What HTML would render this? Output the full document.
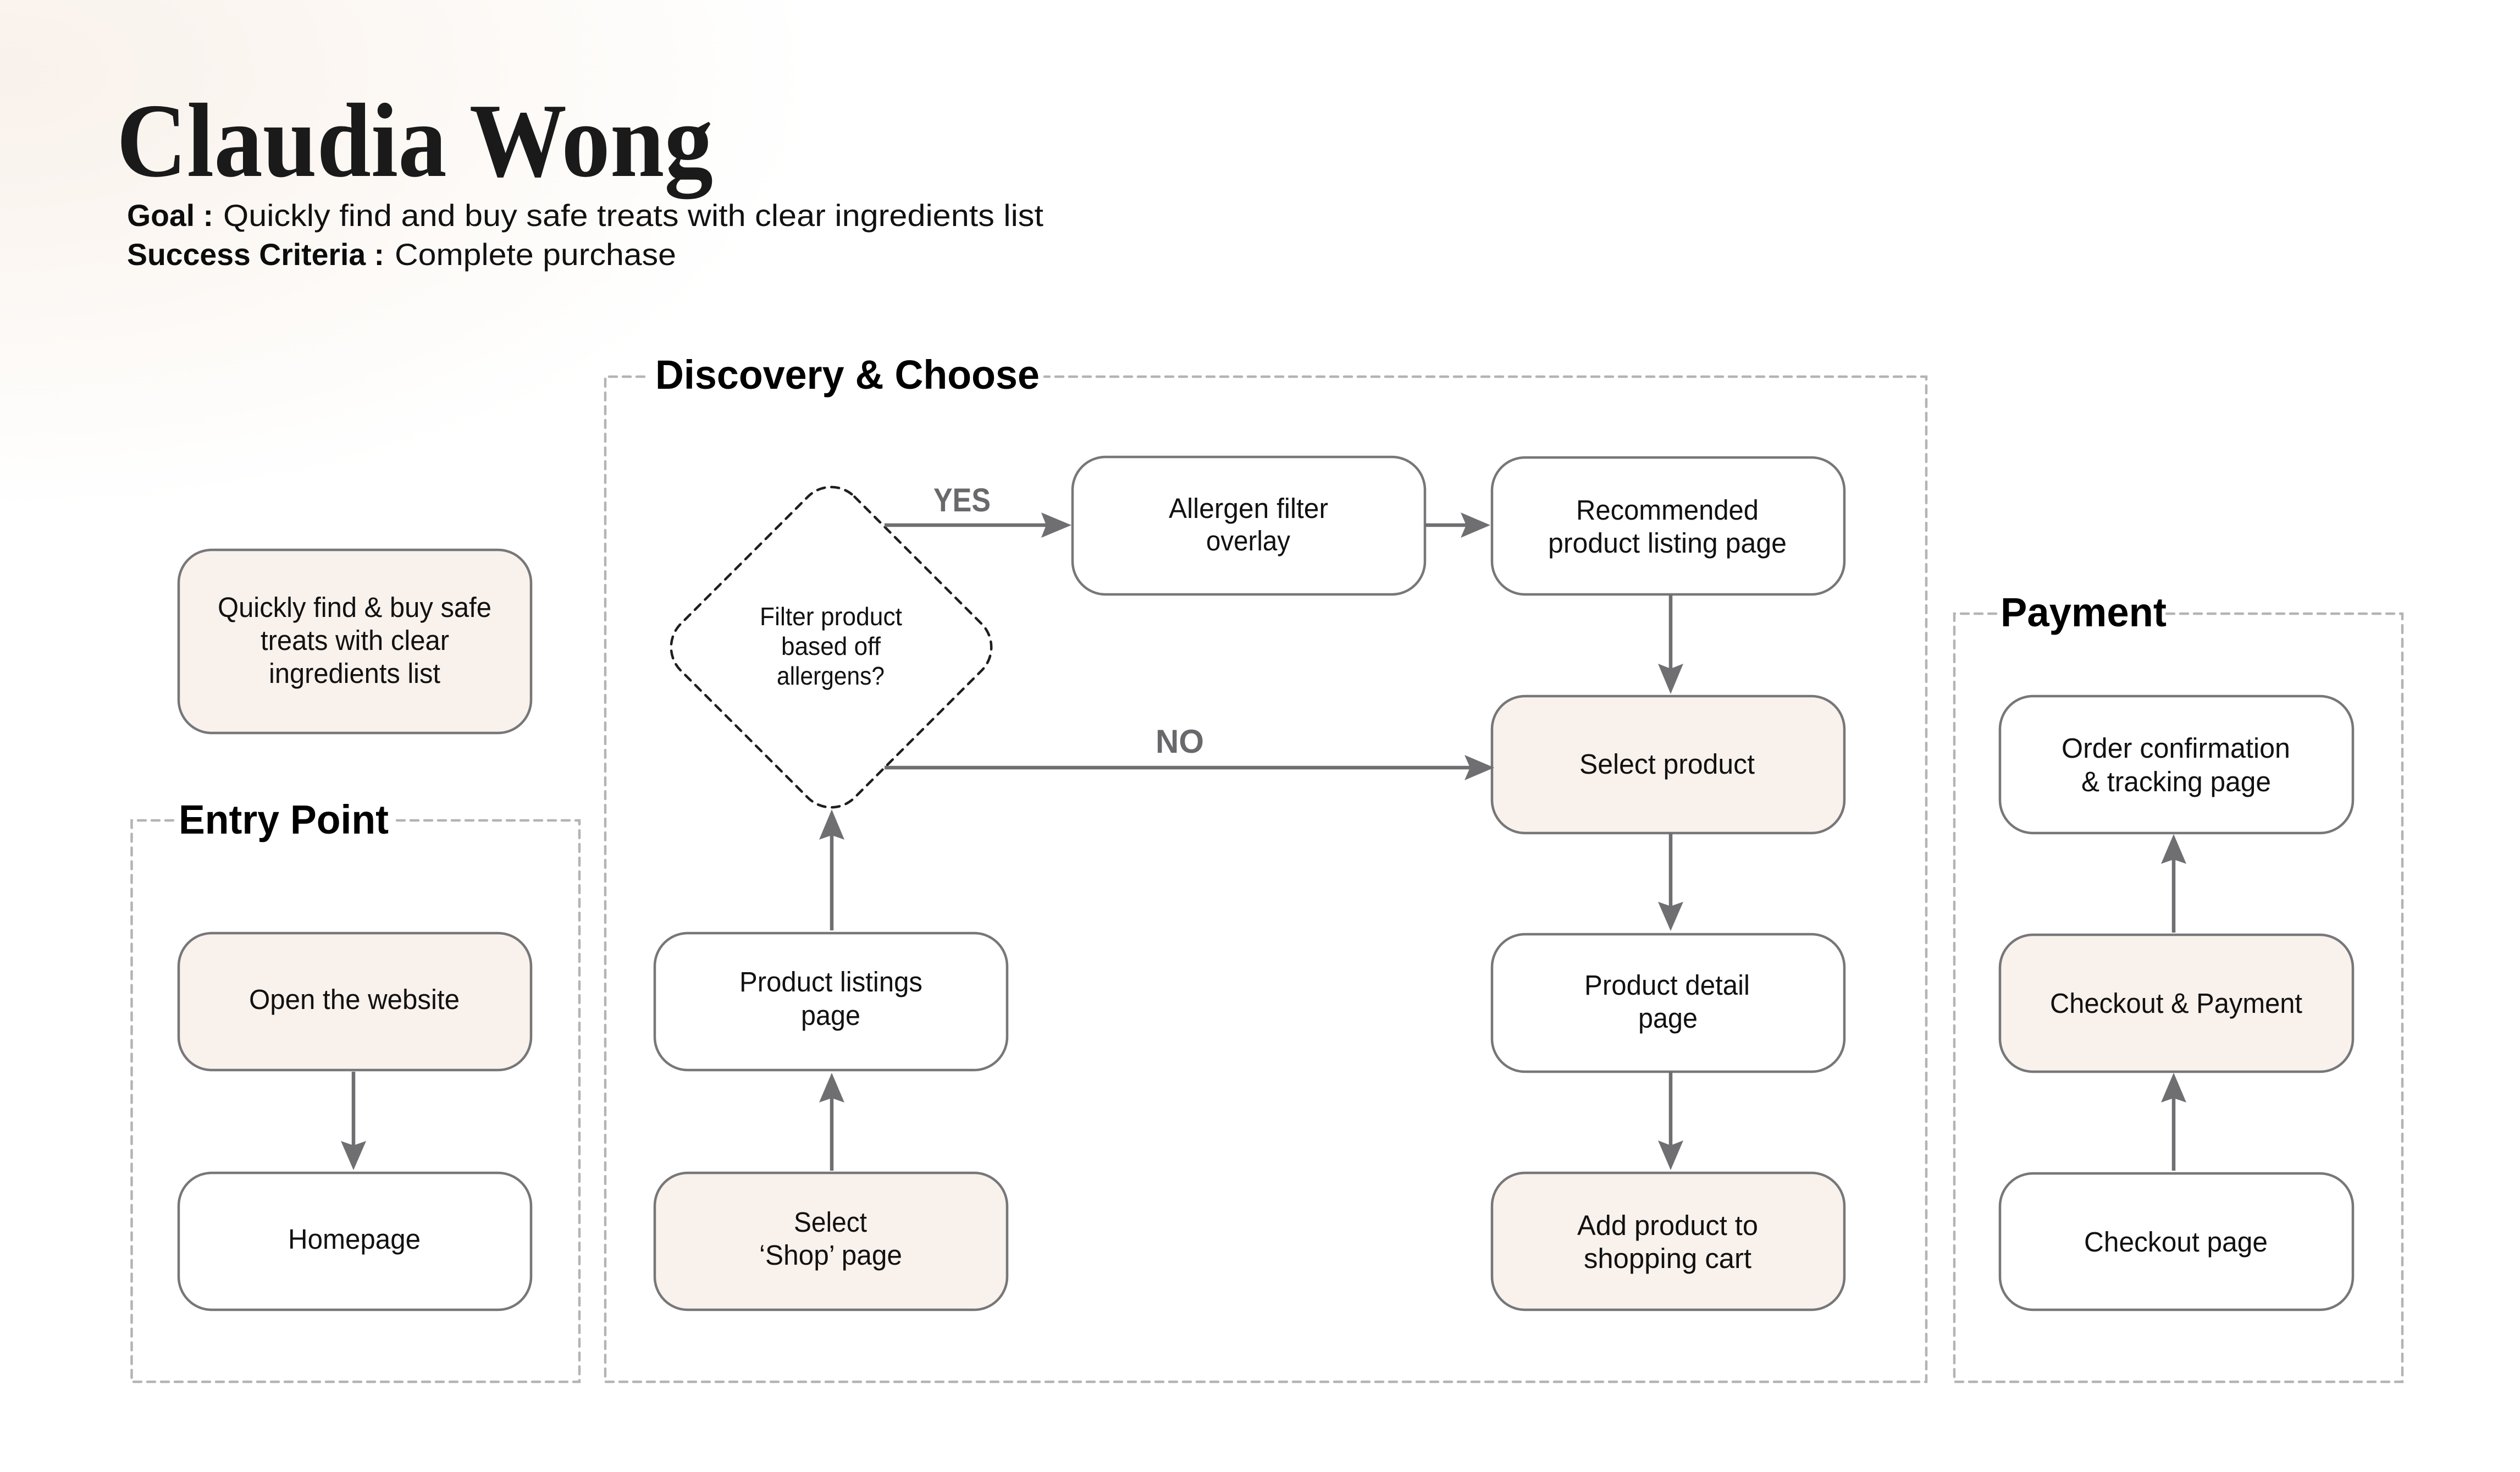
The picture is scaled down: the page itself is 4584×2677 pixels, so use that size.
<!DOCTYPE html>
<html lang="en">
<head>
<meta charset="utf-8">
<title>Claudia Wong user flow</title>
<style>
html,body{margin:0;padding:0;background:#fff;width:4584px;height:2677px;overflow:hidden}
svg{display:block}
text{font-family:"Liberation Sans",sans-serif;fill:#111;font-size:51px}
.t{font-size:56px;fill:#111}
.h{font-size:74px;font-weight:700;fill:#000}
.b{font-size:56px;font-weight:700;fill:#0c0c0c}
.l{font-size:60px;font-weight:700;fill:#69696c}
.d{font-size:46px}
.n{fill:#fff;stroke:#77777a;stroke-width:4.5}
.f{fill:#f9f1eb;stroke:#77777a;stroke-width:4.5}
.g{fill:none;stroke:#b4b4b4;stroke-width:4.5;stroke-dasharray:14 11;stroke-linecap:round}
.a{stroke:#6f6f72;stroke-width:6.5;fill:none}
.p{fill:#6f6f72}
</style>
</head>
<body>
<svg xmlns="http://www.w3.org/2000/svg" width="4584" height="2677" viewBox="0 0 4584 2677">
<defs>
<radialGradient id="bg" gradientUnits="userSpaceOnUse" cx="0" cy="0" r="1" gradientTransform="translate(0 130) scale(1480 800)">
<stop offset="0" stop-color="#f9f1eb"/>
<stop offset=".5" stop-color="#fcf8f4"/>
<stop offset="1" stop-color="#ffffff"/>
</radialGradient>
</defs>
<rect width="4584" height="2677" fill="#fff"/>
<rect width="1500" height="950" fill="url(#bg)"/>

<!-- Header -->
<text x="212" y="320" textLength="1085" lengthAdjust="spacingAndGlyphs" style="font-family:'Liberation Serif',serif;font-size:192px;font-weight:700;fill:#1a1a1a">Claudia Wong</text>
<text class="b" x="231" y="411" textLength="157" lengthAdjust="spacingAndGlyphs">Goal :</text>
<text class="t" x="406" y="411" textLength="1492" lengthAdjust="spacingAndGlyphs">Quickly find and buy safe treats with clear ingredients list</text>
<text class="b" x="231" y="482" textLength="468" lengthAdjust="spacingAndGlyphs">Success Criteria :</text>
<text class="t" x="718" y="482" textLength="512" lengthAdjust="spacingAndGlyphs">Complete purchase</text>

<!-- Groups -->
<path class="g" d="M315 1492H239.500V2513H1054V1492H717"/>
<path class="g" d="M1172 685H1101V2513H3504V685H1900"/>
<path class="g" d="M3631 1116H3555V2513H4370V1116H3941"/>
<text class="h" x="325" y="1516" textLength="382" lengthAdjust="spacingAndGlyphs">Entry Point</text>
<text class="h" x="1192" y="707" textLength="699" lengthAdjust="spacingAndGlyphs">Discovery &amp; Choose</text>
<text class="h" x="3639" y="1139" textLength="302" lengthAdjust="spacingAndGlyphs">Payment</text>

<!-- Nodes -->
<rect class="f" x="325" y="1000" width="641" height="333" rx="60"/>
<rect class="f" x="325" y="1697" width="641" height="249" rx="60"/>
<rect class="n" x="325" y="2133" width="641" height="249" rx="60"/>
<rect class="n" x="1191" y="1697" width="641" height="249" rx="60"/>
<rect class="f" x="1191" y="2133" width="641" height="249" rx="60"/>
<rect class="n" x="1951" y="831" width="641" height="250" rx="60"/>
<rect class="n" x="2714" y="832" width="641" height="249" rx="60"/>
<rect class="f" x="2714" y="1266" width="641" height="249" rx="60"/>
<rect class="n" x="2714" y="1699" width="641" height="250" rx="60"/>
<rect class="f" x="2714" y="2133" width="641" height="249" rx="60"/>
<rect class="n" x="3638" y="1266" width="642" height="249" rx="60"/>
<rect class="f" x="3638" y="1700" width="642" height="249" rx="60"/>
<rect class="n" x="3638" y="2134" width="642" height="248" rx="60"/>

<!-- Decision -->
<rect x="1288.500" y="953.500" width="447" height="447" rx="60" transform="rotate(45 1512 1177)" fill="none" stroke="#1e1e1e" stroke-width="4.5" stroke-dasharray="14 12" stroke-linecap="round"/>

<!-- Connectors -->
<path class="a" d="M643 1949V2085"/><polygon class="p" points="643,2128 620,2075 643,2083 666,2075"/>
<path class="a" d="M1513 2129V1995"/><polygon class="p" points="1513,1951 1490,2005 1513,1997 1536,2005"/>
<path class="a" d="M1513 1692V1519"/><polygon class="p" points="1513,1472 1490,1527 1513,1519 1536,1527"/>
<path class="a" d="M1609 955H1905"/><polygon class="p" points="1949,955 1894,932 1903,955 1894,978"/>
<path class="a" d="M2592 955H2668"/><polygon class="p" points="2711,955 2657,932 2667,955 2657,978"/>
<path class="a" d="M1609 1396H2676"/><polygon class="p" points="2718,1396 2664,1373 2674,1396 2664,1419"/>
<path class="a" d="M3039 1081V1218"/><polygon class="p" points="3039,1262 3016,1207 3039,1216 3062,1207"/>
<path class="a" d="M3039 1515V1650"/><polygon class="p" points="3039,1693 3016,1640 3039,1648 3062,1640"/>
<path class="a" d="M3039 1949V2085"/><polygon class="p" points="3039,2128 3016,2074 3039,2083 3062,2074"/>
<path class="a" d="M3954 2129V1995"/><polygon class="p" points="3954,1951 3931,2005 3954,1997 3977,2005"/>
<path class="a" d="M3954 1696V1561"/><polygon class="p" points="3954,1517 3931,1571 3954,1563 3977,1571"/>

<!-- Connector labels -->
<text class="l" x="1698" y="930" textLength="104" lengthAdjust="spacingAndGlyphs">YES</text>
<text class="l" x="2102" y="1369" textLength="88" lengthAdjust="spacingAndGlyphs">NO</text>

<!-- Node text -->
<text x="396" y="1122" textLength="498" lengthAdjust="spacingAndGlyphs">Quickly find &amp; buy safe</text>
<text x="474" y="1182" textLength="343" lengthAdjust="spacingAndGlyphs">treats with clear</text>
<text x="489" y="1242" textLength="312" lengthAdjust="spacingAndGlyphs">ingredients list</text>
<text x="453" y="1835" textLength="383" lengthAdjust="spacingAndGlyphs">Open the website</text>
<text x="524" y="2271" textLength="241" lengthAdjust="spacingAndGlyphs">Homepage</text>
<text x="1345" y="1803" textLength="333" lengthAdjust="spacingAndGlyphs">Product listings</text>
<text x="1457" y="1864" textLength="108" lengthAdjust="spacingAndGlyphs">page</text>
<text x="1444" y="2240" textLength="133" lengthAdjust="spacingAndGlyphs">Select</text>
<text x="1381" y="2300" textLength="260" lengthAdjust="spacingAndGlyphs">‘Shop’ page</text>
<text class="d" x="1382" y="1137" textLength="259" lengthAdjust="spacingAndGlyphs">Filter product</text>
<text class="d" x="1421" y="1191" textLength="181" lengthAdjust="spacingAndGlyphs">based off</text>
<text class="d" x="1413" y="1245" textLength="196" lengthAdjust="spacingAndGlyphs">allergens?</text>
<text x="2126" y="942" textLength="290" lengthAdjust="spacingAndGlyphs">Allergen filter</text>
<text x="2194" y="1001" textLength="153" lengthAdjust="spacingAndGlyphs">overlay</text>
<text x="2867" y="945" textLength="332" lengthAdjust="spacingAndGlyphs">Recommended</text>
<text x="2816" y="1005" textLength="434" lengthAdjust="spacingAndGlyphs">product listing page</text>
<text x="2873" y="1407" textLength="319" lengthAdjust="spacingAndGlyphs">Select product</text>
<text x="2882" y="1809" textLength="301" lengthAdjust="spacingAndGlyphs">Product detail</text>
<text x="2980" y="1869" textLength="108" lengthAdjust="spacingAndGlyphs">page</text>
<text x="2869" y="2246" textLength="329" lengthAdjust="spacingAndGlyphs">Add product to</text>
<text x="2881" y="2306" textLength="305" lengthAdjust="spacingAndGlyphs">shopping cart</text>
<text x="3750" y="1378" textLength="416" lengthAdjust="spacingAndGlyphs">Order confirmation</text>
<text x="3786" y="1439" textLength="345" lengthAdjust="spacingAndGlyphs">&amp; tracking page</text>
<text x="3729" y="1842" textLength="459" lengthAdjust="spacingAndGlyphs">Checkout &amp; Payment</text>
<text x="3791" y="2276" textLength="334" lengthAdjust="spacingAndGlyphs">Checkout page</text>
</svg>
</body>
</html>
